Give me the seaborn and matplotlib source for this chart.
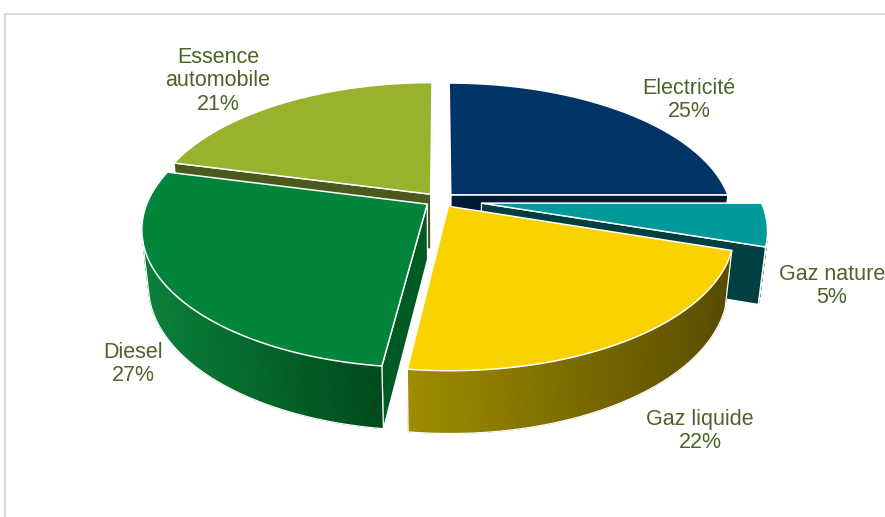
import numpy as np
import matplotlib.pyplot as plt
import matplotlib.colors as mcolors
from matplotlib.patches import Polygon
from matplotlib.lines import Line2D
import seaborn as sns

# data, clockwise from 12 o'clock
categories = ['Electricité', 'Gaz nature', 'Gaz liquide', 'Diesel', 'Essence\nautomobile']
shares = [25, 5, 22, 27, 21]

# styling per slice
top_colors = ['#003366', '#009999', '#fad200', '#00853a', '#98b22e']
wall_light = ['#002448', '#004848', '#a08c00', '#08803a', '#55661f']
wall_dark = ['#001428', '#003838', '#574c00', '#004a1c', '#3f4c15']
cut_colors = ['#001a33', '#003f3f', '#6b5d00', '#005a24', '#4a5a1c']
explode = [0.055, 0.15, 0.055, 0.055, 0.055]
label_px = [(689, 100), (832, 286), (700, 431), (133, 364), (218, 81)]

sns.set_theme(style='white')
plt.rcParams['font.family'] = ['Liberation Sans', 'DejaVu Sans']

W, H = 885, 517
R_PX = 279
CX, CY = 440, 200
tilt = np.radians(28.5)
dist = 5.0
depth = 0.23
cam = np.array([0, -dist * np.cos(tilt), dist * np.sin(tilt)])


def proj(pts):
    pts = np.atleast_2d(np.asarray(pts, float))
    x, y, z = pts[:, 0], pts[:, 1], pts[:, 2]
    v = y * np.sin(tilt) + z * np.cos(tilt)
    w = y * np.cos(tilt) - z * np.sin(tilt)
    s = dist / (dist + w)
    return np.column_stack([x * s, v * s])


def facing(normal, point):
    return np.dot(normal, cam - point) > 0


def blend(c1, c2, f):
    a = np.array(mcolors.to_rgb(c1))
    b = np.array(mcolors.to_rgb(c2))
    return tuple(a + (b - a) * f)


fig = plt.figure(figsize=(W / 100, H / 100), dpi=100)
ax = fig.add_axes([0, 0, 1, 1])
ax.set_xlim(-CX / R_PX, (W - CX) / R_PX)
ax.set_ylim(-(H - CY) / R_PX, CY / R_PX)
ax.axis('off')

total = sum(shares)
slices = []
start = 90.0
for i, share in enumerate(shares):
    t_hi = start
    t_lo = start - share / total * 360
    start = t_lo
    mid = np.radians((t_lo + t_hi) / 2)
    off = explode[i] * np.array([np.cos(mid), np.sin(mid), 0])
    slices.append((i, np.radians(t_lo), np.radians(t_hi), off))

# far slices first
slices.sort(key=lambda s: -np.sin((s[1] + s[2]) / 2))

down = np.array([0, 0, -depth])
for i, a0, a1, off in slices:
    t = np.linspace(a0, a1, 120)
    rim = np.column_stack([np.cos(t), np.sin(t), np.zeros_like(t)]) + off
    apex = off.copy()

    # cut faces
    for ang, nrm in ((a0, np.array([np.sin(a0), -np.cos(a0), 0])),
                     (a1, np.array([-np.sin(a1), np.cos(a1), 0]))):
        edge = off + np.array([np.cos(ang), np.sin(ang), 0])
        quad = np.array([apex, edge, edge + down, apex + down])
        if facing(nrm, quad.mean(axis=0)):
            ax.add_patch(Polygon(proj(quad), closed=True, fc=cut_colors[i],
                                 ec='white', lw=0.9, joinstyle='round'))

    # curved outer wall
    segs = []
    for k in range(len(t) - 1):
        tm = (t[k] + t[k + 1]) / 2
        nrm = np.array([np.cos(tm), np.sin(tm), 0])
        if facing(nrm, off + nrm):
            segs.append(k)
    if segs:
        xs = [proj(rim[k])[0, 0] for k in segs]
        xmin, xmax = min(xs), max(xs)
        for k in segs:
            quad = np.array([rim[k], rim[k + 1], rim[k + 1] + down, rim[k] + down])
            f = (proj(rim[k])[0, 0] - xmin) / (xmax - xmin + 1e-9)
            col = blend(wall_light[i], wall_dark[i], f)
            ax.add_patch(Polygon(proj(quad), closed=True, fc=col, ec=col, lw=0.6))
        idx = list(range(segs[0], segs[-1] + 2))
        bottom = proj(rim[idx] + down)
        ax.plot(bottom[:, 0], bottom[:, 1], color='white', lw=0.9)
        for k in (idx[0], idx[-1]):
            seg = proj(np.array([rim[k], rim[k] + down]))
            ax.plot(seg[:, 0], seg[:, 1], color='white', lw=0.9)

    # top face
    top = np.vstack([apex, rim])
    ax.add_patch(Polygon(proj(top), closed=True, fc=top_colors[i],
                         ec='white', lw=1.1, joinstyle='round'))

# data labels
for (x, y), cat, share in zip(label_px, categories, shares):
    fig.text(x / W, 1 - y / H, f'{cat}\n{share}%', ha='center', va='center',
             fontsize=15.5, color='#4f6228', linespacing=1.15)

# chart area border
fig.add_artist(Line2D([5 / W, 1], [1 - 14 / H, 1 - 14 / H], color='#d9d9d9',
                      lw=1.5, transform=fig.transFigure))
fig.add_artist(Line2D([5 / W, 5 / W], [0, 1 - 14 / H], color='#d9d9d9',
                      lw=1.5, transform=fig.transFigure))

fig.savefig('out.png', dpi=100)
